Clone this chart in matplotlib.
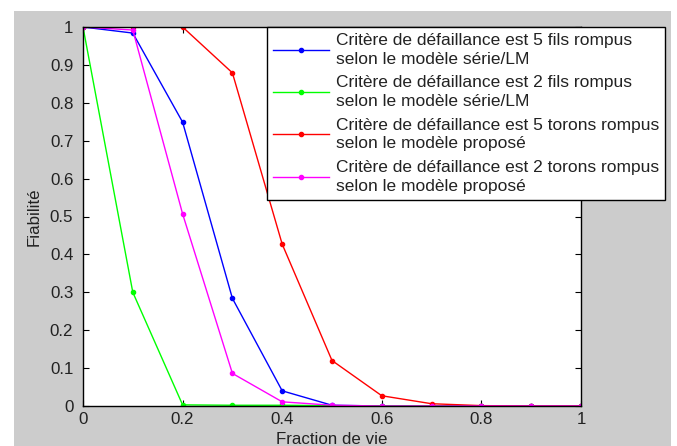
import matplotlib.pyplot as plt
from matplotlib.patches import Rectangle

# life fraction and reliability curves
frac = [0, 0.1, 0.2, 0.3, 0.4, 0.5, 0.6, 0.7, 0.8, 0.9, 1.0]
fils5 = [1, 0.984, 0.749, 0.284, 0.040, 0.002, 0, 0, 0, 0, 0]
fils2 = [1, 0.300, 0.003, 0.002, 0.002, 0.001, 0, 0, 0, 0, 0]
torons5 = [1, 1, 1, 0.879, 0.427, 0.120, 0.027, 0.006, 0.001, 0, 0]
torons2 = [1, 0.992, 0.507, 0.086, 0.011, 0.002, 0, 0, 0, 0, 0]

labels = ["Critère de défaillance est 5 fils rompus\nselon le modèle série/LM",
          "Critère de défaillance est 2 fils rompus\nselon le modèle série/LM",
          "Critère de défaillance est 5 torons rompus\nselon le modèle proposé",
          "Critère de défaillance est 2 torons rompus\nselon le modèle proposé"]

plt.rcParams['font.family'] = ['Liberation Sans', 'DejaVu Sans']
fs = 12.2

fig = plt.figure(figsize=(6.77, 4.46), dpi=100, facecolor='white')
# grey matlab-style background
fig.patches.append(Rectangle((14/677, 0), (671-14)/677, (446-11)/446,
                             transform=fig.transFigure, facecolor='#cccccc',
                             edgecolor='none', zorder=-10))

ax = fig.add_axes([83/677, 40/446, 498/677, 379/446])
ax.plot(frac, fils5, color='#0000ff', marker='.', ms=6, lw=1, label=labels[0])
ax.plot(frac, fils2, color='#00ff00', marker='.', ms=6, lw=1, label=labels[1])
ax.plot(frac, torons5, color='#ff0000', marker='.', ms=6, lw=1, label=labels[2])
ax.plot(frac, torons2, color='#ff00ff', marker='.', ms=6, lw=1, label=labels[3])

ax.set_xlim(0, 1)
ax.set_ylim(0, 1)
ax.set_xticks([0, 0.2, 0.4, 0.6, 0.8, 1])
ax.set_xticklabels(['0', '0.2', '0.4', '0.6', '0.8', '1'])
ax.set_yticks([i / 10 for i in range(11)])
ax.set_yticklabels(['0', '0.1', '0.2', '0.3', '0.4', '0.5', '0.6', '0.7', '0.8', '0.9', '1'])
ax.tick_params(direction='in', top=True, right=True, labelsize=fs, length=4,
               colors='black', labelcolor='#222222')
ax.tick_params(axis='y', pad=7)
ax.tick_params(axis='x', pad=4)
for s in ax.spines.values():
    s.set_linewidth(1)

ax.set_xlabel('Fraction de vie', fontsize=fs, labelpad=4, color='#222222')
ax.set_ylabel('Fiabilité', fontsize=fs, labelpad=6, color='#222222')

leg = ax.legend(loc='upper left', bbox_to_anchor=(267/677, 419/446),
                bbox_transform=fig.transFigure, fontsize=12.5, fancybox=False,
                framealpha=1, edgecolor='black', handlelength=3.2,
                handletextpad=0.4, borderpad=0.35, labelspacing=0.5,
                borderaxespad=0)
leg.get_frame().set_linewidth(1)
for t in leg.get_texts():
    t.set_color('#222222')
    t.set_linespacing(1.3)

fig.savefig('out.png', dpi=100)
